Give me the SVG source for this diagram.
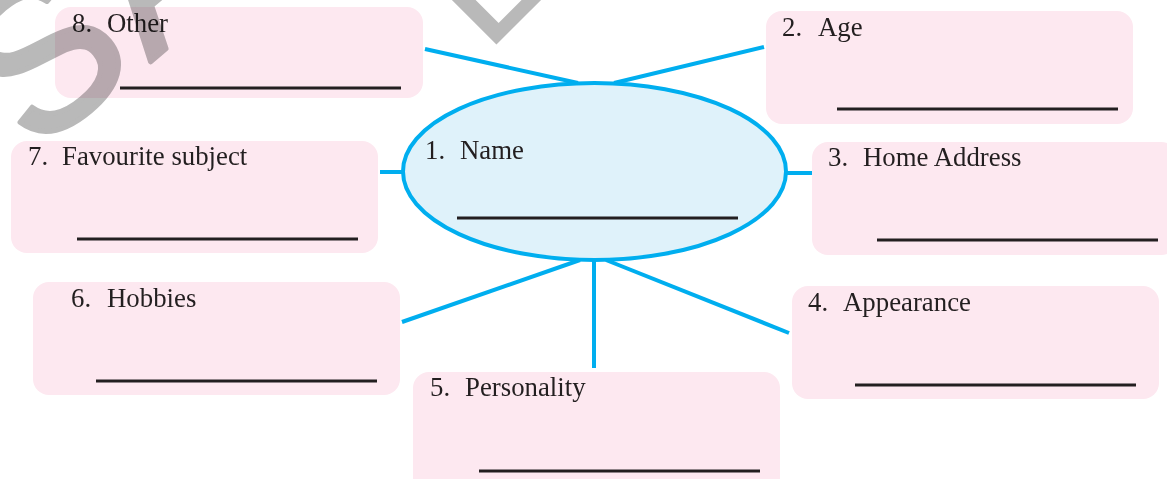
<svg xmlns="http://www.w3.org/2000/svg" width="1167" height="479" viewBox="0 0 1167 479">
  <style>
    .box { fill: #fde8f0; }
    .link { stroke: #00aeef; stroke-width: 4; fill: none; }
    .hub { fill: #dff2fa; stroke: #00aeef; stroke-width: 4; }
    .label { font-family: "Liberation Serif", "Times New Roman", serif; font-size: 26.8px; fill: #231f20; }
    .blank { stroke: #231f20; stroke-width: 3; }
    .mark { font-family: "Liberation Sans", Arial, sans-serif; fill: #b9b9b9; stroke: #b9b9b9; stroke-linejoin: round; mix-blend-mode: multiply; }
  </style>

  <rect width="1167" height="479" fill="#ffffff"/>

  <!-- connectors from the centre oval to each box -->
  <g id="connectors">
    <line class="link" x1="425" y1="49" x2="578" y2="83"/>
    <line class="link" x1="764" y1="47" x2="614" y2="83"/>
    <line class="link" x1="380" y1="172" x2="403" y2="172"/>
    <line class="link" x1="786" y1="173" x2="812" y2="173"/>
    <line class="link" x1="402" y1="322" x2="580" y2="260"/>
    <line class="link" x1="594" y1="258" x2="594" y2="368"/>
    <line class="link" x1="606" y1="260" x2="789" y2="333"/>
  </g>

  <g id="node-other">
    <rect class="box" x="55" y="7" width="368" height="91" rx="16"/>
    <text class="label" y="32"><tspan x="72">8.</tspan><tspan x="107">Other</tspan></text>
    <line class="blank" x1="120" y1="88" x2="401" y2="88"/>
  </g>

  <g id="node-age">
    <rect class="box" x="766" y="11" width="367" height="113" rx="16"/>
    <text class="label" y="36"><tspan x="782">2.</tspan><tspan x="818">Age</tspan></text>
    <line class="blank" x1="837" y1="109" x2="1118" y2="109"/>
  </g>

  <g id="node-address">
    <rect class="box" x="812" y="142" width="365" height="113" rx="16"/>
    <text class="label" y="166"><tspan x="828">3.</tspan><tspan x="863">Home Address</tspan></text>
    <line class="blank" x1="877" y1="240" x2="1158" y2="240"/>
  </g>

  <g id="node-subject">
    <rect class="box" x="11" y="141" width="367" height="112" rx="16"/>
    <text class="label" y="165"><tspan x="28">7.</tspan><tspan x="62">Favourite subject</tspan></text>
    <line class="blank" x1="77" y1="239" x2="358" y2="239"/>
  </g>

  <g id="node-hobbies">
    <rect class="box" x="33" y="282" width="367" height="113" rx="16"/>
    <text class="label" y="307"><tspan x="71">6.</tspan><tspan x="107">Hobbies</tspan></text>
    <line class="blank" x1="96" y1="381" x2="377" y2="381"/>
  </g>

  <g id="node-personality">
    <rect class="box" x="413" y="372" width="367" height="125" rx="16"/>
    <text class="label" y="396"><tspan x="430">5.</tspan><tspan x="465">Personality</tspan></text>
    <line class="blank" x1="479" y1="471" x2="760" y2="471"/>
  </g>

  <g id="node-appearance">
    <rect class="box" x="792" y="286" width="367" height="113" rx="16"/>
    <text class="label" y="311"><tspan x="808">4.</tspan><tspan x="843">Appearance</tspan></text>
    <line class="blank" x1="855" y1="385" x2="1136" y2="385"/>
  </g>

  <g id="node-name">
    <ellipse class="hub" cx="594.5" cy="171.5" rx="191.5" ry="88.5"/>
    <text class="label" y="159"><tspan x="425">1.</tspan><tspan x="460">Name</tspan></text>
    <line class="blank" x1="457" y1="218" x2="738" y2="218"/>
  </g>

  <!-- watermark lettering laid over the sheet -->
  <g id="watermark">
    <text class="mark" font-size="210" stroke-width="5" transform="translate(35 155) rotate(-40)">S<tspan dx="8" dy="3">AMPLE</tspan></text>
    <text class="mark" font-size="180" stroke-width="0" transform="translate(486 55) rotate(-45)">L</text>
  </g>
</svg>
